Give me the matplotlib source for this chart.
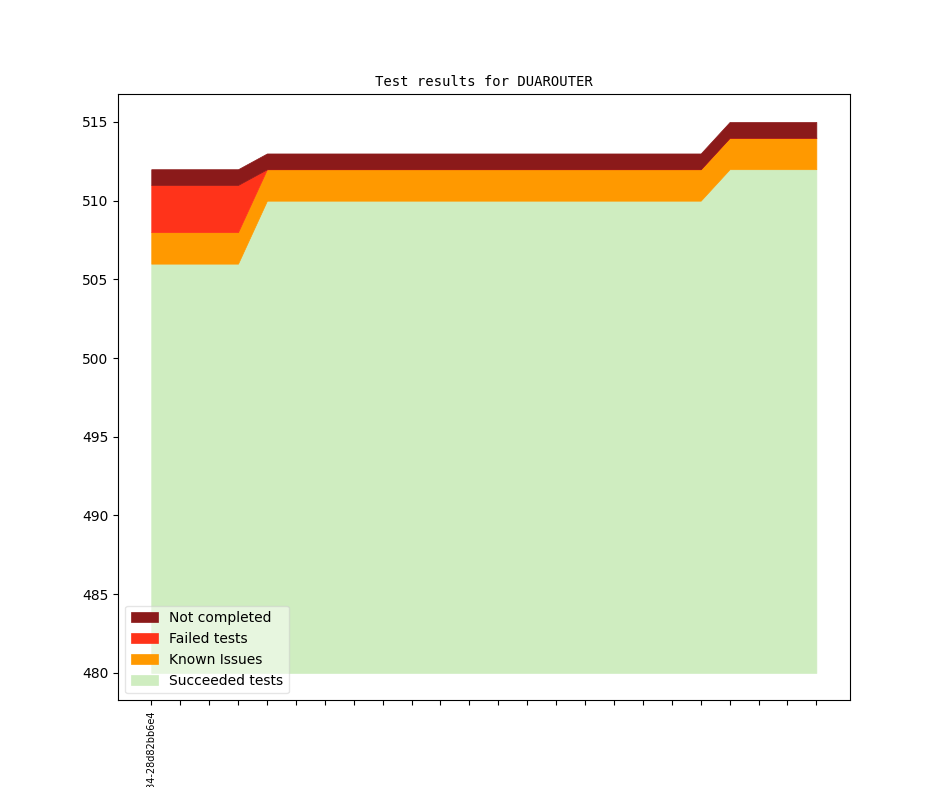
import matplotlib
matplotlib.use("Agg")
import matplotlib.pyplot as plt
import numpy as np

revisions = ["v1_1_0+0034-28d82bb6e4"] + [""] * 23
succeeded = [506] * 4 + [510] * 16 + [512] * 4
known = [2] * 24
failed = [3] * 4 + [0] * 20
not_completed = [1] * 24

colors = {"succ": "#cfedc0", "known": "#ff9900", "failed": "#ff331a", "nc": "#8b1a1a"}

fig = plt.figure(figsize=(9.44, 7.87), dpi=100)
ax = fig.add_subplot(111)
x = np.arange(len(revisions))
base = 480
s = np.array(succeeded)
k = s + np.array(known)
f = k + np.array(failed)
n = f + np.array(not_completed)
h1 = ax.fill_between(x, base, s, color=colors["succ"], lw=0.5, label="Succeeded tests")
h2 = ax.fill_between(x, s, k, color=colors["known"], lw=0.5, label="Known Issues")
h3 = ax.fill_between(x, k, f, color=colors["failed"], lw=0.5, label="Failed tests")
h4 = ax.fill_between(x, f, n, color=colors["nc"], lw=0.5, label="Not completed")
ax.set_xticks(x)
ax.set_xticklabels(revisions, rotation=90, fontsize=7)
ax.set_title("Test results for DUAROUTER", fontsize=10, family="monospace")
ax.legend(handles=[h4, h3, h2, h1], loc="lower left", framealpha=0.5)
fig.savefig("out.png", dpi=100)
